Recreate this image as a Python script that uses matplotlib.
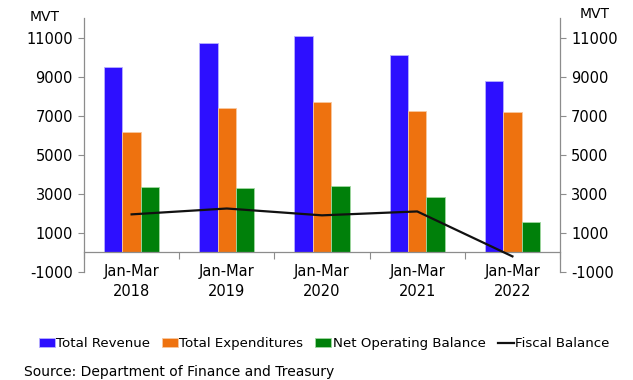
import matplotlib
matplotlib.use("Agg")
import matplotlib.pyplot as plt
import numpy as np

# Quarterly fiscal figures, million vatu
periods = ["Jan-Mar\n2018", "Jan-Mar\n2019", "Jan-Mar\n2020", "Jan-Mar\n2021", "Jan-Mar\n2022"]
total_revenue = [9500, 10700, 11100, 10100, 8800]
total_expenditures = [6150, 7400, 7700, 7250, 7200]
net_operating_balance = [3350, 3300, 3400, 2850, 1550]
fiscal_balance = [1950, 2250, 1900, 2100, -200]
yticks = [-1000, 1000, 3000, 5000, 7000, 9000, 11000]

c_rev = "#2D0FFF"
c_exp = "#EE720F"
c_nob = "#00800A"
grey = "#8C8C8C"

plt.rcParams['font.family'] = ['DejaVu Sans']
plt.rcParams['axes.unicode_minus'] = False
fig = plt.figure(figsize=(6.33, 3.8), dpi=100)
ax = fig.add_axes([0.1327, 0.2842, 0.752, 0.6684])

x = np.arange(len(periods))
w = 0.193
ax.bar(x - w, total_revenue, w, color=c_rev, edgecolor="#B8B0FF", linewidth=0.6, label="Total Revenue", zorder=2)
ax.bar(x, total_expenditures, w, color=c_exp, edgecolor="#F8C8A0", linewidth=0.6, label="Total Expenditures", zorder=2)
ax.bar(x + w, net_operating_balance, w, color=c_nob, edgecolor="#A0D8A0", linewidth=0.6, label="Net Operating Balance", zorder=2)
ax.plot(x, fiscal_balance, color="#111111", linewidth=1.6, label="Fiscal Balance", zorder=3)

ax.set_xlim(-0.5, len(periods) - 0.5)
ax.set_ylim(-1000, 12000)
ax.set_yticks(yticks)
ax.tick_params(axis="y", labelsize=10.5, length=4, color=grey, width=0.8, pad=4)

# x axis sits on zero, with separators between groups
ax.spines["bottom"].set_position(("data", 0))
ax.spines["top"].set_visible(False)
ax.spines["right"].set_visible(False)
for s in ("left", "bottom"):
    ax.spines[s].set_color(grey)
    ax.spines[s].set_linewidth(0.9)
ax.set_xticks(np.arange(len(periods) + 1) - 0.5)
ax.set_xticklabels([])
ax.set_xticks(x, minor=True)
ax.set_xticklabels(periods, minor=True, fontsize=10.5, linespacing=1.45)
ax.tick_params(axis="x", which="major", length=5, color=grey, width=0.8, direction="out")
ax.tick_params(axis="x", which="minor", length=0, pad=8)

ax2 = ax.twinx()
ax2.set_ylim(ax.get_ylim())
ax2.set_yticks(yticks)
ax2.tick_params(axis="y", labelsize=10.5, length=4, color=grey, width=0.8, pad=4)
for s in ("top", "left", "bottom"):
    ax2.spines[s].set_visible(False)
ax2.spines["right"].set_color(grey)
ax2.spines["right"].set_linewidth(0.9)

fig.text(0.071, 0.955, "MVT", fontsize=10, ha="center", va="center")
fig.text(0.94, 0.962, "MVT", fontsize=10, ha="center", va="center")

h, l = ax.get_legend_handles_labels()
order = [1, 2, 3, 0]
fig.legend([h[i] for i in order], [l[i] for i in order], loc="center", bbox_to_anchor=(0.512, 0.095),
           ncol=4, frameon=False, fontsize=9.6, handlelength=1.2, handleheight=0.6,
           handletextpad=0.1, columnspacing=0.9, borderaxespad=0)

fig.text(0.038, 0.02, "Source: Department of Finance and Treasury", fontsize=10, ha="left", va="center")

fig.savefig("out.png", dpi=100)
